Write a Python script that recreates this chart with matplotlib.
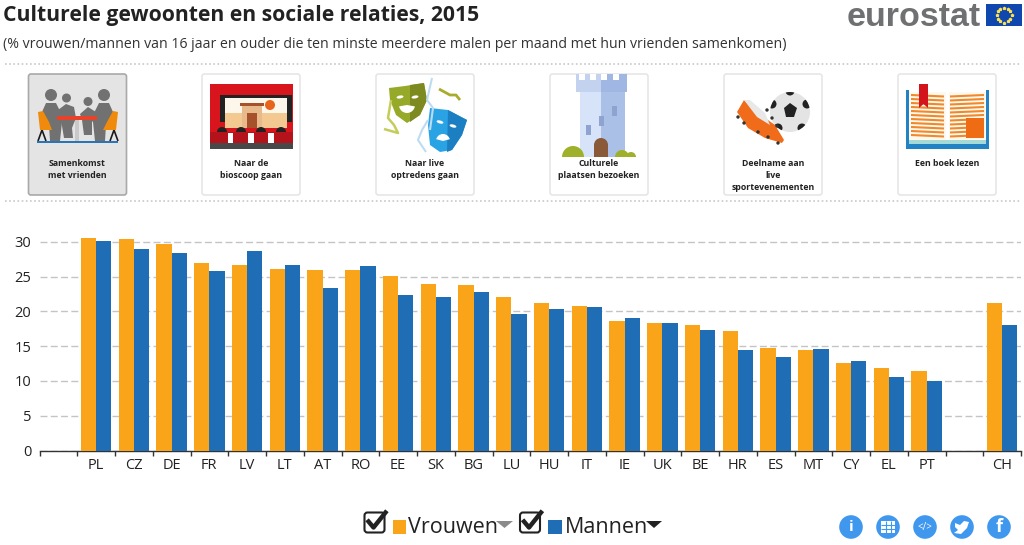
import numpy as np
import matplotlib
matplotlib.use('Agg')
import matplotlib.pyplot as plt
from matplotlib.patches import Rectangle, Circle, Polygon, FancyBboxPatch, Ellipse, Wedge

plt.rcParams['font.family'] = ['Open Sans', 'DejaVu Sans']

# data
countries = ['PL', 'CZ', 'DE', 'FR', 'LV', 'LT', 'AT', 'RO', 'EE', 'SK', 'BG', 'LU', 'HU', 'IT', 'IE', 'UK',
             'BE', 'HR', 'ES', 'MT', 'CY', 'EL', 'PT', '', 'CH']
vrouwen = [30.6, 30.4, 29.7, 27.0, 26.7, 26.1, 26.0, 26.0, 25.1, 24.0, 23.8, 22.1, 21.2, 20.8, 18.6, 18.4,
           18.0, 17.2, 14.7, 14.5, 12.6, 11.8, 11.4, np.nan, 21.2]
mannen = [30.1, 29.0, 28.4, 25.8, 28.7, 26.7, 23.3, 26.5, 22.3, 22.0, 22.8, 19.6, 20.4, 20.7, 19.1, 18.4,
          17.3, 14.4, 13.4, 14.6, 12.9, 10.6, 10.0, np.nan, 18.1]
yticks = [0, 5, 10, 15, 20, 25, 30]
card_labels = ['Samenkomst\nmet vrienden', 'Naar de\nbioscoop gaan', 'Naar live\noptredens gaan',
               'Culturele\nplaatsen bezoeken', 'Deelname aan\nlive\nsportevenementen', 'Een boek lezen']

ORANGE = '#faa519'
BLUE = '#1f6db5'
W, H = 1024, 545

fig = plt.figure(figsize=(W / 100, H / 100), dpi=100)

# bar chart, placed in pixel terms
left, right, y0, y30 = 39.5, 1021, 450.6, 241.8
top = 225
ax = fig.add_axes([left / W, 1 - y0 / H, (right - left) / W, (y0 - top) / H])
x = np.arange(1, len(countries) + 1)
ax.bar(x - 0.2025, vrouwen, 0.405, color=ORANGE, zorder=3)
ax.bar(x + 0.2025, mannen, 0.405, color=BLUE, zorder=3)
ax.set_xlim(-0.5, len(countries) + 0.5)
ax.set_ylim(0, (y0 - top) / (y0 - y30) * 30)
ax.set_yticks(yticks)
ax.set_xticks(x)
ax.set_xticklabels(countries, fontsize=10.5, color='#222222')
ax.set_xticks(np.arange(0, len(countries) + 2) - 0.5, minor=True)
ax.tick_params(axis='x', which='major', length=0, pad=5)
ax.tick_params(axis='x', which='minor', length=3.6, width=1, color='#333333')
ax.tick_params(axis='y', length=0, labelsize=10.5, labelcolor='#222222', pad=6)
ax.grid(axis='y', color='#c4c4c4', linewidth=1.0, linestyle=(0, (5, 2.4)), zorder=0)
for s in ['top', 'right', 'left']:
    ax.spines[s].set_visible(False)
ax.spines['bottom'].set_color('#333333')
ax.spines['bottom'].set_linewidth(1)

# overlay in image pixels for header, cards and legend
ov = fig.add_axes([0, 0, 1, 1], zorder=5)
ov.set_xlim(0, W)
ov.set_ylim(H, 0)
ov.axis('off')
ov.patch.set_alpha(0)


def rect(x0, y0_, x1, y1, c, z=3):
    ov.add_patch(Rectangle((x0, y0_), x1 - x0, y1 - y0_, fc=c, ec='none', zorder=z))


def poly(pts, c, z=3):
    ov.add_patch(Polygon(pts, closed=True, fc=c, ec='none', zorder=z))


def circ(cx, cy, r, c, z=3):
    p = Circle((cx, cy), r, fc=c, ec='none', zorder=z)
    ov.add_patch(p)
    return p


def line(xs, ys, c, lw=1.0, z=3):
    return ov.plot(xs, ys, color=c, lw=lw, zorder=z, solid_capstyle='butt')[0]


ov.text(3, 16, 'Culturele gewoonten en sociale relaties, 2015', fontsize=15.2, fontweight='bold',
        color='#222222', va='center', ha='left')
ov.text(3, 45, '(% vrouwen/mannen van 16 jaar en ouder die ten minste meerdere malen per maand met hun vrienden samenkomen)',
        fontsize=10.15, color='#333333', va='center', ha='left')

# eurostat logo
ov.text(981, 26, 'eurostat', family='Liberation Sans', fontweight='bold', fontsize=24.5, color='#6f7072',
        ha='right', va='baseline')
rect(986, 4, 1022, 26, '#0f47af')
ang = np.arange(12) * np.pi / 6
ov.scatter(1004 + 7.5 * np.cos(ang), 15 + 7.5 * np.sin(ang), s=3, color='#ffe14d', marker='*', zorder=4)

for yy in [64, 201]:
    line([5, 1020], [yy, yy], '#c8c8c8', 1.2).set_linestyle((0, (1, 1.5)))

# cards
card_x = [28.5, 202, 376, 550, 724, 898]
for i, (cx, lab) in enumerate(zip(card_x, card_labels)):
    sel = i == 0
    ov.add_patch(FancyBboxPatch((cx, 74), 98, 121, boxstyle='round,pad=0,rounding_size=2.5',
                                fc='#e4e4e4' if sel else 'white', ec='#a9a9a9' if sel else '#e6e6e6',
                                lw=1.2, zorder=1))
    ov.text(cx + 49, 159.5, lab, fontsize=6.3, fontweight='bold', color='#222222', ha='center', va='top',
            linespacing=1.39, zorder=5)

# icon 1: people at a table
g = '#717171'
for cx_, cy_, r in [(51, 95, 6), (66.5, 98, 4.5), (88, 101.5, 4.5), (104, 95, 6)]:
    circ(cx_, cy_, r, g)
poly([(42, 112), (46, 103), (56, 103), (62, 115), (62, 122), (60, 141), (50, 141), (49, 125), (42, 122)], g)
poly([(113, 112), (109, 103), (99, 103), (93, 115), (93, 122), (95, 141), (105, 141), (106, 125), (113, 122)], g)
poly([(58, 110), (66, 104), (74, 107), (76, 118), (72, 128), (73, 138), (64, 138), (61, 120)], g)
poly([(80, 114), (88, 107), (96, 112), (97, 118), (92, 122), (92, 135), (84, 135), (82, 120)], g)
poly([(38, 112), (43, 111), (49, 122), (52, 130), (40, 130)], '#f08a0c', 4)
poly([(118, 112), (113, 111), (107, 122), (103, 130), (116, 130)], '#f08a0c', 4)
rect(57, 116, 97, 120, '#e8432a', 4)
rect(75, 120, 79, 141, '#c9c9c9', 2)
line([38, 42, 46], [141, 130, 141], '#1a1a1a', 1.2)
line([110, 114, 118], [141, 130, 141], '#1a1a1a', 1.2)
rect(37, 141, 118, 142.5, '#2a75b5')

# icon 2: cinema
cx = 210
rect(cx, 84, cx + 83, 149, '#d8141c')
rect(cx + 15, 98, cx + 77, 128, '#fdf6ea')
rect(cx + 10, 96, cx + 15, 122, '#222222')
rect(cx + 77, 96, cx + 82, 122, '#222222')
rect(cx + 10, 95, cx + 82, 98, '#222222')
rect(cx + 15, 113, cx + 77, 128, '#f3c891')
rect(cx + 32, 106, cx + 52, 128, '#e8b98a')
rect(cx + 37, 113, cx + 47, 128, '#a5522c')
rect(cx + 30, 103, cx + 54, 106, '#a5522c')
circ(cx + 60, 105, 5, '#e8641c')
for dx in [12, 31, 51, 71]:
    ov.add_patch(Wedge((cx + dx, 132), 5, 180, 360, fc='#222222', ec='none', zorder=3))
rect(cx, 132, cx + 83, 143, '#b4131c')
for d0, d1 in [(18, 23), (38, 44), (58, 64)]:
    rect(cx + d0, 133, cx + d1, 143, 'white', 4)
rect(cx, 143, cx + 83, 149, '#484848')

# icon 3: masks
poly([(389, 88), (405, 86), (424, 83), (427, 100), (420, 115), (407, 123), (396, 115), (390, 100)], '#97a929')
poly([(410, 85), (424, 83), (427, 100), (420, 115), (410, 122)], '#7d8a20')
poly([(430, 108), (448, 110), (467, 120), (462, 135), (452, 150), (440, 152), (430, 145), (428, 125)], '#2aa3e4')
poly([(448, 110), (467, 120), (462, 135), (452, 150), (447, 152)], '#1b7fc2')
for ex, ey in [(400, 97), (415, 97)]:
    ov.add_patch(Ellipse((ex, ey), 7, 3, angle=-10, fc='white', ec='none', zorder=4))
for ex, ey in [(440, 122), (453, 126)]:
    ov.add_patch(Ellipse((ex, ey), 7, 3, angle=15, fc='white', ec='none', zorder=4))
ov.add_patch(Wedge((407, 105), 8, 10, 170, fc='white', ec='none', zorder=4))
ov.add_patch(Wedge((443, 141), 7, 195, 345, fc='white', ec='none', zorder=4))
line([391, 388, 394, 398, 384], [100, 118, 125, 133, 129], '#c4cc5a', 1.8)
line([439, 450, 456, 460], [89, 95, 95, 100], '#a9ac2b', 2)
line([432, 427, 433, 430], [78, 100, 108, 130], '#bcdcf2', 1.5)
line([428, 422, 418, 426], [120, 130, 140, 152], '#bcdcf2', 1.5)

# icon 4: tower
rect(576, 74, 627, 92, '#c3d3ef')
rect(601, 74, 627, 92, '#9fb7e2')
for dx in [579, 590, 601, 613]:
    rect(dx, 74, dx + 6, 80, 'white')
rect(580, 92, 625, 157, '#d6e3f8')
rect(601, 92, 625, 157, '#aac0e6')
for wx, wy in [(614, 111), (601, 121), (588, 130)]:
    rect(wx - 2.5, wy - 5, wx + 2.5, wy + 5, '#8ea3cf', 4)
ov.add_patch(Wedge((601, 145), 7, 180, 360, fc='#8a5a38', ec='none', zorder=4))
rect(594, 145, 608, 157, '#8a5a38', 4)
ov.add_patch(Wedge((573, 157), 11, 180, 360, fc='#9fb12a', ec='none', zorder=5))
ov.add_patch(Wedge((622, 157), 7, 180, 360, fc='#9fb12a', ec='none', zorder=5))
ov.add_patch(Wedge((631, 157), 5, 180, 360, fc='#9fb12a', ec='none', zorder=5))

# icon 5: boot and football
ball = circ(790, 112, 20, '#e4e4e4')
poly([(790, 103), (797, 108), (794, 117), (786, 117), (784, 108)], '#222222', 4)
for px, py in [(790, 91), (807, 104), (802, 128), (778, 128), (772, 104)]:
    circ(px, py, 4.5, '#222222', 4).set_clip_path(ball)
poly([(737, 112), (744, 100), (752, 108), (765, 118), (775, 125), (784, 140), (782, 143), (765, 138), (748, 128)],
     '#f06c1a', 5)
poly([(744, 100), (750, 100), (765, 113), (770, 125), (757, 117)], '#e8e8e8', 5)
for px, py in [(738, 117), (744, 123), (758, 132), (768, 137), (778, 143), (767, 110), (772, 118), (777, 126)]:
    circ(px, py, 1.7, '#333333', 6)

# icon 6: book
rect(906, 90, 909, 149, '#2182c4')
rect(986, 90, 989, 149, '#2182c4')
rect(906, 144, 989, 149, '#2182c4')
rect(909, 92, 946, 144, '#fff8ec', 2)
rect(949, 92, 986, 144, '#fff8ec', 2)
rect(909, 140, 986, 144, '#a5dad6', 2)
for yy in np.arange(95, 139, 4):
    line([911, 944], [yy, yy + 1.5], '#f0882c', 1.5)
    line([950, 984], [yy + 1.5, yy], '#f0882c', 1.5)
rect(966, 118, 984, 138, '#ee6c14', 4)
poly([(919, 84), (928, 84), (928, 108), (923.5, 104), (919, 108)], '#d4141c', 4)


# legend
def check(cx_, cy_):
    ov.add_patch(FancyBboxPatch((cx_ - 10, cy_ - 10), 20, 20, boxstyle='round,pad=0,rounding_size=3',
                                fc='white', ec='#222222', lw=1.5, zorder=3))
    ov.plot([cx_ - 6, cx_ - 1, cx_ + 11], [cy_ - 1, cy_ + 5, cy_ - 10], color='#222222', lw=3.2, zorder=4)


check(374.5, 522.5)
rect(392.5, 520, 406, 534, ORANGE)
ov.text(408.5, 527.5, 'Vrouwen', fontsize=15.5, color='#222222', va='center', ha='left')
poly([(496, 521), (513, 521), (504.5, 528)], '#8b8b8b')
check(530, 522.5)
rect(548, 520, 562, 534, BLUE)
ov.text(565, 527.5, 'Mannen', fontsize=15.5, color='#222222', va='center', ha='left')
poly([(646, 521), (662, 521), (654, 528)], '#222222')

# share buttons
ICON = '#3f97ee'
for bx in [851, 888, 925, 962, 999]:
    circ(bx, 527, 11.8, ICON)
ov.text(851, 527, 'i', fontsize=11, fontweight='bold', color='white', ha='center', va='center', zorder=5)
rect(881, 521, 895, 533, 'white', 4)
for d in [885.5, 890.5]:
    line([d, d], [521, 533], ICON, 0.8, 5)
for d in [525, 529]:
    line([881, 895], [d, d], ICON, 0.8, 5)
ov.text(925, 527, '</>', fontsize=7, color='white', ha='center', va='center', zorder=5)
poly([(955, 523), (960, 525), (964, 521), (969, 522), (967, 528), (961, 534), (954, 533), (958, 530), (955, 527)],
     'white', 5)
ov.text(999, 527, 'f', fontsize=13, fontweight='bold', color='white', ha='center', va='center', zorder=5)

fig.savefig('out.png', dpi=100)
